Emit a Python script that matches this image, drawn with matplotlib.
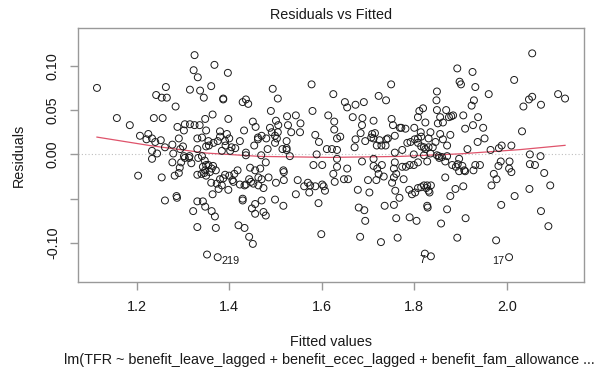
import numpy as np
import matplotlib
matplotlib.use("Agg")
import matplotlib.pyplot as plt

plt.rcParams['font.family'] = ['Liberation Sans', 'DejaVu Sans']

# fitted values / residuals of the model, roughly left to right
fitted = [1.114, 1.157, 1.185, 1.203, 1.207,
          1.225, 1.221, 1.233, 1.252, 1.240, 1.263, 1.242, 1.254, 1.265, 1.284, 1.237, 1.256, 1.288, 1.291, 1.277,
          1.261, 1.233, 1.244, 1.279, 1.233, 1.277, 1.254, 1.282, 1.291, 1.261, 1.286, 1.287, 1.293,
          1.325, 1.323, 1.332, 1.315, 1.337, 1.345, 1.348, 1.304, 1.315, 1.325, 1.336, 1.302, 1.350, 1.331, 1.341,
          1.300, 1.294, 1.331, 1.350, 1.302, 1.314, 1.355, 1.356,
          1.304, 1.313, 1.318, 1.296, 1.333, 1.341, 1.347, 1.343, 1.350, 1.331, 1.340, 1.346, 1.350, 1.331, 1.343,
          1.348, 1.322, 1.331, 1.352, 1.355, 1.348, 1.358, 1.362,
          1.368, 1.397, 1.361, 1.387, 1.387, 1.429, 1.436, 1.441, 1.364, 1.398, 1.380, 1.395, 1.400, 1.391, 1.380,
          1.375, 1.366, 1.392, 1.405, 1.413, 1.402, 1.384, 1.432, 1.423, 1.436, 1.436,
          1.364, 1.398, 1.384, 1.377, 1.373, 1.361, 1.380, 1.387, 1.391, 1.400, 1.411, 1.418, 1.407, 1.409, 1.423,
          1.433, 1.436, 1.443, 1.429, 1.429, 1.362, 1.369, 1.371, 1.420, 1.433, 1.443, 1.365, 1.371,
          1.451, 1.457, 1.494, 1.505, 1.490, 1.501, 1.506, 1.525, 1.527, 1.544, 1.554, 1.553, 1.488, 1.492, 1.462,
          1.462, 1.470, 1.480, 1.454, 1.483, 1.499, 1.503, 1.499, 1.505, 1.524, 1.515, 1.524, 1.524, 1.534, 1.469, 1.531,
          1.479, 1.445, 1.456, 1.467, 1.517, 1.518, 1.447, 1.452, 1.463, 1.474, 1.463, 1.470, 1.485, 1.501, 1.518,
          1.548, 1.544, 1.456, 1.449, 1.456, 1.470, 1.474, 1.479, 1.499, 1.517, 1.451,
          1.578, 1.625, 1.580, 1.614, 1.627, 1.627, 1.586, 1.594, 1.611, 1.622, 1.589, 1.640, 1.633, 1.633,
          1.582, 1.601, 1.562, 1.570, 1.575, 1.586, 1.601, 1.604, 1.607, 1.573, 1.593, 1.599, 1.625, 1.633, 1.633, 1.628,
          1.650, 1.655, 1.673, 1.691, 1.723, 1.739, 1.750, 1.667, 1.688, 1.687, 1.712, 1.673, 1.684, 1.709, 1.715,
          1.707, 1.712, 1.694, 1.671, 1.719, 1.729, 1.738, 1.725, 1.740, 1.743, 1.751, 1.754, 1.758, 1.758,
          1.648, 1.657, 1.655, 1.687, 1.712, 1.712, 1.720, 1.730, 1.723, 1.734, 1.700, 1.718, 1.758, 1.756, 1.761,
          1.756, 1.752, 1.678, 1.703, 1.759, 1.768, 1.680, 1.692, 1.736, 1.756, 1.694, 1.761, 1.683, 1.728, 1.764,
          1.769, 1.772, 1.781, 1.800, 1.814, 1.808, 1.811, 1.819, 1.824, 1.849, 1.848, 1.849, 1.856, 1.869, 1.875,
          1.880, 1.884, 1.851, 1.862, 1.893, 1.898, 1.901, 1.785, 1.792, 1.801, 1.808, 1.815, 1.831, 1.835, 1.856,
          1.862, 1.878, 1.871, 1.846, 1.821, 1.824, 1.831, 1.840, 1.774, 1.799, 1.815, 1.808, 1.849, 1.853, 1.871,
          1.774, 1.782, 1.790, 1.799, 1.808, 1.821, 1.828, 1.835, 1.854, 1.860, 1.867, 1.882, 1.890, 1.894, 1.897,
          1.777, 1.789, 1.795, 1.802, 1.808, 1.815, 1.821, 1.828, 1.826, 1.831, 1.836, 1.833, 1.867, 1.889, 1.878,
          1.828, 1.829, 1.871, 1.790, 1.805, 1.858, 1.893, 1.823,
          2.055, 1.926, 1.932, 1.961, 2.016, 1.929, 1.924, 2.111, 2.126, 2.048, 2.055, 2.036, 2.074, 1.906, 1.938,
          1.910, 1.927, 1.949, 2.033, 1.952, 1.937, 1.915, 1.965, 1.983, 1.989, 2.010, 2.050, 2.073,
          1.904, 1.908, 1.910, 1.932, 1.942, 1.928, 1.987, 1.982, 2.006, 2.005, 2.010, 2.050, 2.061, 2.081, 1.972,
          1.978, 1.967, 1.906, 2.049, 2.094, 2.017, 1.988, 1.911, 2.074, 2.090, 1.977, 1.897]

resid = [0.075, 0.041, 0.033, -0.024, 0.021,
         0.023, 0.017, 0.018, 0.016, 0.014, 0.076, 0.067, 0.064, 0.064, 0.054, 0.041, 0.041, 0.031, 0.018, 0.011,
         0.008, 0.004, 0.001, 0.001, -0.005, -0.009, -0.026, -0.024, -0.021, -0.052, -0.047, -0.049, -0.015,
         0.112, 0.095, 0.087, 0.073, 0.072, 0.064, 0.040, 0.034, 0.034, 0.033, 0.033, 0.027, 0.027, 0.018, 0.019,
         0.009, 0.006, 0.006, 0.009, -0.002, -0.002, 0.015, 0.010,
         -0.004, -0.004, -0.010, -0.009, -0.004, -0.002, -0.007, -0.014, -0.012, -0.023, -0.022, -0.021, -0.024, -0.053, -0.053,
         -0.059, -0.064, -0.082, -0.113, -0.012, -0.018, -0.020, -0.016,
         0.101, 0.092, 0.077, 0.063, 0.062, 0.059, 0.062, 0.057, 0.045, 0.040, 0.026, 0.023, 0.018, 0.015, 0.020,
         0.015, 0.013, 0.010, 0.008, 0.007, 0.004, 0.004, 0.027, 0.015, 0.002, -0.001,
         -0.045, -0.040, -0.035, -0.039, -0.033, -0.032, -0.028, -0.027, -0.023, -0.024, -0.022, -0.018, -0.029, -0.031, -0.034,
         -0.035, -0.034, -0.028, -0.050, -0.052, -0.064, -0.070, -0.083, -0.080, -0.083, -0.093, -0.013, -0.018,
         0.037, 0.031, 0.074, 0.063, 0.049, 0.038, 0.033, 0.043, 0.033, 0.044, 0.035, 0.025, 0.030, 0.025, 0.019,
         0.017, 0.021, 0.018, 0.010, 0.006, 0.021, 0.018, 0.013, 0.025, 0.015, 0.006, 0.007, 0.005, 0.025, -0.001, -0.002,
         -0.009, -0.015, -0.018, -0.016, -0.018, -0.020, -0.031, -0.033, -0.035, -0.038, -0.026, -0.028, -0.026, -0.032, -0.029,
         -0.029, -0.045, -0.056, -0.061, -0.067, -0.052, -0.065, -0.069, -0.051, -0.058, -0.101,
         0.079, 0.068, 0.049, 0.044, 0.037, 0.028, 0.022, 0.014, 0.006, 0.006, 0.000, 0.020, 0.018, 0.005,
         -0.012, -0.012, -0.036, -0.032, -0.035, -0.036, -0.034, -0.036, -0.041, -0.043, -0.055, -0.090, -0.022, -0.005, -0.014, -0.031,
         0.059, 0.053, 0.056, 0.059, 0.066, 0.061, 0.079, 0.042, 0.041, 0.033, 0.038, 0.017, 0.024, 0.023, 0.024,
         0.019, 0.018, 0.015, 0.008, 0.010, 0.010, 0.010, 0.016, 0.017, 0.018, 0.040, 0.033, 0.021, 0.002,
         -0.028, -0.028, -0.016, -0.008, -0.005, -0.013, -0.016, -0.012, -0.022, -0.025, -0.029, -0.029, -0.009, -0.016, -0.022,
         -0.026, -0.032, -0.040, -0.043, -0.041, -0.049, -0.060, -0.063, -0.058, -0.057, -0.075, -0.072, -0.093, -0.099, -0.094,
         0.030, 0.030, 0.029, 0.030, 0.025, 0.042, 0.049, 0.052, 0.036, 0.071, 0.061, 0.050, 0.042, 0.050, 0.042,
         0.043, 0.044, 0.035, 0.036, 0.097, 0.082, 0.079, 0.013, 0.014, 0.017, 0.018, 0.020, 0.018, 0.025, 0.023,
         0.017, 0.022, 0.010, 0.014, 0.008, 0.006, 0.008, 0.008, 0.005, 0.000, 0.009, 0.013, -0.001, -0.002, -0.002,
         -0.014, -0.014, -0.012, -0.012, -0.009, -0.001, -0.008, 0.001, -0.004, -0.003, -0.008, -0.012, -0.014, -0.011, -0.019,
         -0.028, -0.040, -0.045, -0.043, -0.038, -0.037, -0.035, -0.035, -0.038, -0.041, -0.035, -0.043, -0.026, -0.039, -0.047,
         -0.058, -0.060, -0.062, -0.071, -0.075, -0.078, -0.094, -0.112,
         0.114, 0.093, 0.076, 0.068, 0.084, 0.061, 0.055, 0.068, 0.063, 0.062, 0.065, 0.054, 0.056, 0.044, 0.042,
         0.029, 0.033, 0.030, 0.026, 0.018, 0.014, 0.006, 0.005, 0.007, 0.010, 0.010, 0.000, -0.002,
         -0.013, -0.018, -0.019, -0.012, -0.012, -0.018, -0.008, -0.013, -0.008, -0.016, -0.020, -0.011, -0.012, -0.021, -0.022,
         -0.028, -0.035, -0.036, -0.039, -0.035, -0.047, -0.057, -0.072, -0.064, -0.081, -0.097, -0.005]

# the three cases with the biggest residuals, labelled by row number
id_names = ['219', '7', '17']
id_fitted = [1.375, 1.836, 2.005]
id_resid = [-0.116, -0.115, -0.116]

# smoother through the residuals
smooth_x = [1.114, 1.229, 1.350, 1.467, 1.618, 1.769, 1.899, 2.029, 2.126]
smooth_y = [0.0195, 0.0099, 0.0015, -0.0023, -0.0034, -0.0023, 0.0006, 0.0054, 0.0102]

W, H = 606, 372
fs = 10.4
fig = plt.figure(figsize=(W / 100, H / 100), dpi=100)
ax = fig.add_axes([78 / W, 1 - 282 / H, (584 - 78) / W, (282 - 28) / H])

x_all = np.array(fitted + id_fitted)
y_all = np.array(resid + id_resid)

ax.axhline(0, color='#bebebe', lw=0.8, ls=(0, (1, 2)), zorder=1)
ax.scatter(x_all, y_all, s=25, facecolors='none', edgecolors='#1a1a1a', linewidths=0.7, zorder=3)
ax.plot(smooth_x, smooth_y, color='#DF536B', lw=0.9, zorder=2)

for name, fx, ry in zip(id_names, id_fitted, id_resid):
    if fx < np.mean([min(x_all), max(x_all)]):
        ax.annotate(name, (fx, ry), xytext=(4, -4), textcoords='offset pixels',
                    ha='left', va='center', fontsize=7.8, color='#1a1a1a')
    else:
        ax.annotate(name, (fx, ry), xytext=(-5, -4), textcoords='offset pixels',
                    ha='right', va='center', fontsize=7.8, color='#1a1a1a')

ax.set_xlim(1.073, 2.167)
ax.set_ylim(-0.144, 0.1426)

ax.set_xticks([1.2, 1.4, 1.6, 1.8, 2.0])
ax.set_xticklabels(['1.2', '1.4', '1.6', '1.8', '2.0'])
ax.set_yticks([-0.10, -0.05, 0.0, 0.05, 0.10])
ax.set_yticklabels(['-0.10', '', '0.00', '0.05', '0.10'], rotation=90, va='center')

for s in ax.spines.values():
    s.set_color('#999999')
    s.set_linewidth(1.0)
ax.tick_params(direction='out', length=6, width=1.0, color='#999999',
               labelsize=fs, labelcolor='#1a1a1a', pad=7)

fig.text(331 / W, 1 - 15 / H, 'Residuals vs Fitted', ha='center', va='center', fontsize=fs, color='#1a1a1a')
fig.text(19 / W, 1 - 155 / H, 'Residuals', ha='center', va='center', rotation=90, fontsize=fs, color='#1a1a1a')
fig.text(331 / W, 1 - 342.5 / H, 'Fitted values', ha='center', va='center', fontsize=fs, color='#1a1a1a')
fig.text(329 / W, 1 - 360 / H,
         'lm(TFR ~ benefit_leave_lagged + benefit_ecec_lagged + benefit_fam_allowance ...',
         ha='center', va='center', fontsize=fs, color='#1a1a1a')

fig.savefig('out.png', dpi=100)
